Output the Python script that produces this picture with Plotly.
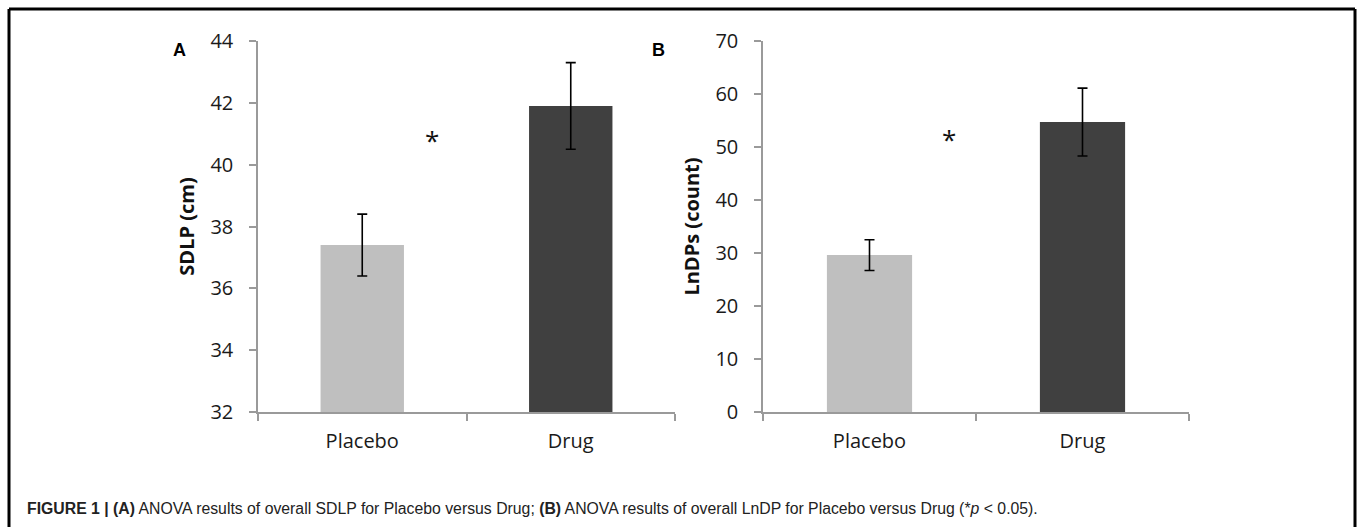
import plotly.graph_objects as go

categories = ["Placebo", "Drug"]
sdlp_means = [37.4, 41.9]
sdlp_err = [1.0, 1.4]
lndp_means = [29.6, 54.7]
lndp_err = [2.9, 6.4]
bar_colors = ["#bfbfbf", "#404040"]
sdlp_ticks = [32, 34, 36, 38, 40, 42, 44]
lndp_ticks = [0, 10, 20, 30, 40, 50, 60, 70]

W, H = 1357, 527

fig = go.Figure()
fig.add_trace(go.Bar(x=categories, y=sdlp_means, marker_color=bar_colors, width=0.4,
                     error_y=dict(type="data", array=sdlp_err, color="black", thickness=1.6, width=5),
                     xaxis="x", yaxis="y", showlegend=False))
fig.add_trace(go.Bar(x=categories, y=lndp_means, marker_color=bar_colors, width=0.4,
                     error_y=dict(type="data", array=lndp_err, color="black", thickness=1.6, width=5),
                     xaxis="x2", yaxis="y2", showlegend=False))

tickfont = dict(family="Open Sans, Liberation Sans, sans-serif", size=20, color="#1a1a1a")
titlefont = dict(family="Open Sans, sans-serif", size=20, color="#111")
axcol = "#9a9a9a"
ydom = [1 - 412 / H, 1 - 41 / H]

xcommon = dict(showline=True, linecolor=axcol, linewidth=1.5, ticks="outside", tickson="boundaries",
               ticklen=7, tickcolor=axcol, tickwidth=1.5, tickfont=tickfont, showgrid=False,
               zeroline=False, ticklabelstandoff=10, automargin=False)
ycommon = dict(showline=True, linecolor=axcol, linewidth=1.5, ticks="outside", ticklen=7,
               tickcolor=axcol, tickwidth=1.5, tickfont=tickfont, showgrid=False, zeroline=False,
               domain=ydom, ticklabelstandoff=12, automargin=False)

fig.update_layout(
    template="none",
    width=W, height=H, margin=dict(l=0, r=0, t=0, b=0, pad=0),
    paper_bgcolor="white", plot_bgcolor="white", bargap=0.6,
    xaxis=dict(domain=[258 / W, 675 / W], anchor="y", **xcommon),
    xaxis2=dict(domain=[763 / W, 1189 / W], anchor="y2", **xcommon),
    yaxis=dict(range=[32, 44], tickvals=sdlp_ticks, anchor="x",
               title=dict(text="<b>SDLP (cm)</b>", font=titlefont, standoff=10),
               **ycommon),
    yaxis2=dict(range=[0, 70], tickvals=lndp_ticks, anchor="x2",
                title=dict(text="<b>LnDPs (count)</b>", font=titlefont, standoff=10),
                **ycommon),
)

# Asterisks
fig.add_annotation(x=0.335, y=40.8, xref="x", yref="y", text="*", showarrow=False,
                   font=dict(family="Open Sans, sans-serif", size=26, color="#111"))
fig.add_annotation(x=0.373, y=51.6, xref="x2", yref="y2", text="*", showarrow=False,
                   font=dict(family="Open Sans, sans-serif", size=26, color="#111"))

# Panel letters
fig.add_annotation(x=171 / W, y=1 - 38 / H, xref="paper", yref="paper", text="<b>A</b>", showarrow=False,
                   font=dict(family="Liberation Sans, Arial, sans-serif", size=18, color="black"))
fig.add_annotation(x=658 / W, y=1 - 38 / H, xref="paper", yref="paper", text="<b>B</b>", showarrow=False,
                   font=dict(family="Liberation Sans, Arial, sans-serif", size=18, color="black"))

# Caption
fig.add_annotation(x=25 / W, y=1 - 508 / H, xref="paper", yref="paper", xanchor="left", yanchor="middle",
                   text="<b>FIGURE 1 | (A)</b> ANOVA results of overall SDLP for Placebo versus Drug; <b>(B)</b> ANOVA results of overall LnDP for Placebo versus Drug (*<i>p</i> &lt; 0.05).",
                   showarrow=False,
                   font=dict(family="Liberation Sans, Arial, sans-serif", size=15.8, color="#222"))

# Frame
fr = dict(color="black", width=3)
fig.add_shape(type="line", xref="paper", yref="paper", x0=9 / W, x1=1355 / W, y0=1 - 9 / H, y1=1 - 9 / H, line=fr)
fig.add_shape(type="line", xref="paper", yref="paper", x0=9 / W, x1=9 / W, y0=1 - 9 / H, y1=0, line=fr)
fig.add_shape(type="line", xref="paper", yref="paper", x0=1355 / W, x1=1355 / W, y0=1 - 9 / H, y1=0, line=fr)

fig.write_html("out.html", config={"displayModeBar": False},
               post_script="document.body.style.margin='0';document.body.style.overflow='hidden';")
